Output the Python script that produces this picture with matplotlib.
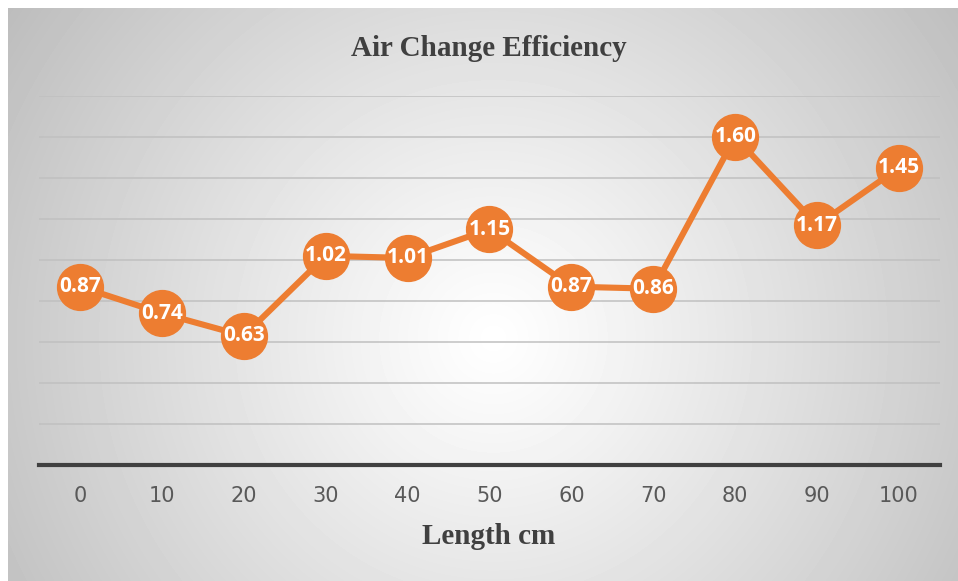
import numpy as np
import matplotlib
matplotlib.use("Agg")
from matplotlib import pyplot as plt

# chart data
lengths = ['0', '10', '20', '30', '40', '50', '60', '70', '80', '90', '100']
ace = [0.87, 0.74, 0.63, 1.02, 1.01, 1.15, 0.87, 0.86, 1.60, 1.17, 1.45]
grid_vals = [0.2, 0.4, 0.6, 0.8, 1.0, 1.2, 1.4, 1.6, 1.8]

W, H = 958, 581
orange = '#ED7D31'

fig = plt.figure(figsize=(W / 100, H / 100), dpi=100)
fig.patch.set_facecolor('white')

# radial gradient background of the chart area
bx0, by0 = 8, 8  # chart area starts here (pixels from left/top)
bg = fig.add_axes([bx0 / W, 0, (W - bx0) / W, (H - by0) / H])
bw, bh = W - bx0, H - by0
xx, yy = np.meshgrid(np.arange(bw), np.arange(bh))
cx, cy = 485, 330
d = np.sqrt((xx - cx) ** 2 + (yy - cy) ** 2) / np.sqrt(cx ** 2 + cy ** 2)
shade = 1 - 0.26 * np.clip(d, 0, 1) ** 1.1
bg.imshow(shade, cmap='gray', vmin=0, vmax=1, aspect='auto',
          interpolation='bilinear')
bg.axis('off')

# plot area
left, right = 39, 940
top, bottom = 96, 465
ax = fig.add_axes([left / W, (H - bottom) / H, (right - left) / W, (bottom - top) / H])
ax.set_facecolor('none')

x = np.arange(len(lengths))
ax.plot(x, ace, color=orange, lw=4.4, marker='o', markersize=33,
        markeredgecolor=orange, markerfacecolor=orange, zorder=3,
        solid_capstyle='round')
for xi, v in zip(x, ace):
    ax.text(xi, v, f'{v:.2f}', ha='center', va='center', color='white',
            fontsize=15, fontweight='bold', family='Open Sans', zorder=4)

ax.set_xlim(-0.5, len(lengths) - 0.5)
ax.set_ylim(0, 1.8)
ax.set_yticks(grid_vals)
ax.yaxis.grid(True, color='#c0c0c0', lw=1.1)
ax.set_axisbelow(True)
ax.tick_params(axis='y', length=0, labelleft=False)
ax.set_xticks(x)
ax.set_xticklabels(lengths, fontsize=15, color='#595959',
                   family=['Liberation Sans Narrow', 'DejaVu Sans'])
ax.tick_params(axis='x', length=0, pad=15)
for s in ['top', 'left', 'right']:
    ax.spines[s].set_visible(False)
ax.spines['bottom'].set_color('#404040')
ax.spines['bottom'].set_linewidth(3)

fig.text(489 / W, 1 - 48 / H, 'Air Change Efficiency', ha='center', va='center',
         fontsize=21, fontweight='bold', color='#404040', family='Liberation Serif')
fig.text(489 / W, 1 - 537 / H, 'Length cm', ha='center', va='center',
         fontsize=21, fontweight='bold', color='#404040', family='Liberation Serif')

fig.savefig('out.png', dpi=100)
